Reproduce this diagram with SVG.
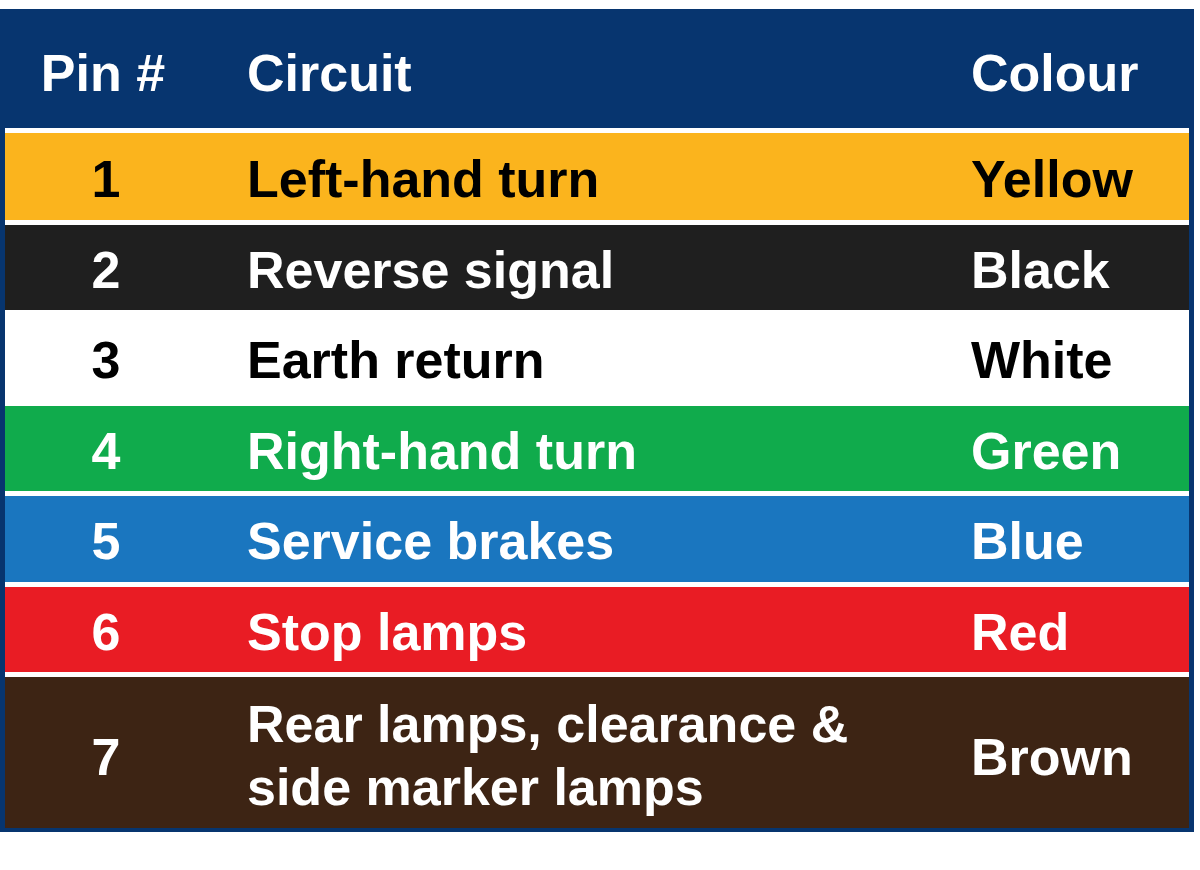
<svg xmlns="http://www.w3.org/2000/svg" width="1200" height="870" viewBox="0 0 1200 870">
  <style>
    text { font-family: "Liberation Sans", Arial, sans-serif; font-weight: bold; font-size: 52px; }
    .w { fill: #ffffff; }
    .k { fill: #000000; }
    .pin { text-anchor: middle; }
  </style>
  <rect x="0" y="0" width="1200" height="870" fill="#ffffff"/>
  <g id="table-frame">
    <rect x="0" y="9" width="1194" height="823" fill="#07356f"/>
    <rect x="5" y="128" width="1184" height="700" fill="#ffffff"/>
  </g>
  <g id="header">
    <text class="w pin" x="103" y="91">Pin #</text>
    <text class="w" x="247" y="91">Circuit</text>
    <text class="w" x="971" y="91">Colour</text>
  </g>
  <g id="row1">
    <rect x="5" y="133" width="1184" height="87" fill="#fbb41d"/>
    <text class="k pin" x="106" y="197">1</text>
    <text class="k" x="247" y="197">Left-hand turn</text>
    <text class="k" x="971" y="197">Yellow</text>
  </g>
  <g id="row2">
    <rect x="5" y="225" width="1184" height="85" fill="#1f1f1f"/>
    <text class="w pin" x="106" y="288">2</text>
    <text class="w" x="247" y="288">Reverse signal</text>
    <text class="w" x="971" y="288">Black</text>
  </g>
  <g id="row3">
    <rect x="5" y="310" width="1184" height="96" fill="#ffffff"/>
    <text class="k pin" x="106" y="378">3</text>
    <text class="k" x="247" y="378">Earth return</text>
    <text class="k" x="971" y="378">White</text>
  </g>
  <g id="row4">
    <rect x="5" y="406" width="1184" height="85" fill="#10ab4c"/>
    <text class="w pin" x="106" y="469">4</text>
    <text class="w" x="247" y="469">Right-hand turn</text>
    <text class="w" x="971" y="469">Green</text>
  </g>
  <g id="row5">
    <rect x="5" y="496" width="1184" height="86" fill="#1a76bf"/>
    <text class="w pin" x="106" y="559">5</text>
    <text class="w" x="247" y="559">Service brakes</text>
    <text class="w" x="971" y="559">Blue</text>
  </g>
  <g id="row6">
    <rect x="5" y="587" width="1184" height="85" fill="#e91c24"/>
    <text class="w pin" x="106" y="650">6</text>
    <text class="w" x="247" y="650">Stop lamps</text>
    <text class="w" x="971" y="650">Red</text>
  </g>
  <g id="row7">
    <rect x="5" y="677" width="1184" height="151" fill="#3d2414"/>
    <text class="w pin" x="106" y="775">7</text>
    <text class="w" x="247" y="742">Rear lamps, clearance &amp;</text>
    <text class="w" x="247" y="805">side marker lamps</text>
    <text class="w" x="971" y="775">Brown</text>
  </g>
  <g id="connectors"></g>
</svg>
